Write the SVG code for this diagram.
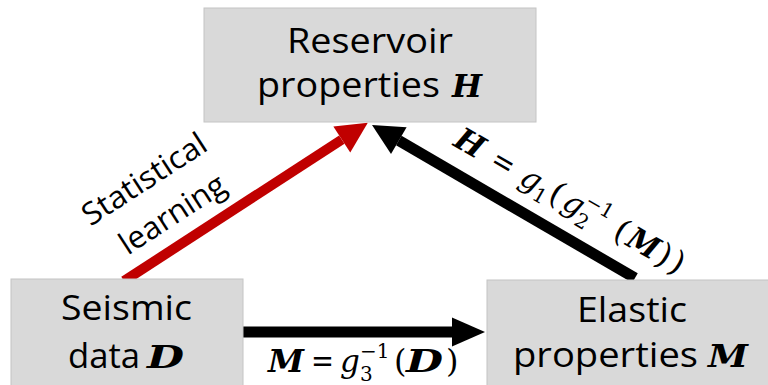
<svg xmlns="http://www.w3.org/2000/svg" width="768" height="385" viewBox="0 0 768 385">
<style>
.box{fill:#d9d9d9;stroke:#c4c4c4;stroke-width:1}
.lbl{font-family:"Open Sans","Noto Sans",sans-serif;font-size:34px;fill:#000}
.rl{font-family:"Open Sans","Noto Sans",sans-serif;font-size:31px;fill:#000}
.mb{font-family:"DejaVu Serif","Liberation Serif",serif;font-style:italic;font-weight:bold;font-size:31px;fill:#000}
.mi{font-family:"DejaVu Serif","Liberation Serif",serif;font-style:italic;font-size:31px;fill:#000}
.mn{font-family:"DejaVu Serif","Liberation Serif",serif;font-size:32px;fill:#000}
.ms{font-family:"DejaVu Serif","Liberation Serif",serif;font-size:20px;fill:#000}
</style>
<defs>
<marker id="hr" markerUnits="userSpaceOnUse" markerWidth="32" markerHeight="32" refX="0" refY="15.5" orient="auto" overflow="visible"><path d="M0,0 L31,15.5 L0,31 z" fill="#c00000"/></marker>
<marker id="hb" markerUnits="userSpaceOnUse" markerWidth="32" markerHeight="32" refX="0" refY="15.5" orient="auto" overflow="visible"><path d="M0,0 L31,15.5 L0,31 z" fill="#000"/></marker>
<marker id="hh" markerUnits="userSpaceOnUse" markerWidth="34" markerHeight="30" refX="0" refY="14.5" orient="auto" overflow="visible"><path d="M0,0 L33,14.5 L0,29 z" fill="#000"/></marker>
</defs>
<g id="connectors">
<line x1="124" y1="281" x2="341.8" y2="139.6" stroke="#c00000" stroke-width="10" marker-end="url(#hr)"/>
<line x1="635" y1="278" x2="398.8" y2="140.6" stroke="#000" stroke-width="11" marker-end="url(#hb)"/>
<line x1="240" y1="332" x2="452" y2="332" stroke="#000" stroke-width="11" marker-end="url(#hh)"/>
<g id="label-stat">
<text class="rl" x="150" y="188" text-anchor="middle" textLength="142" lengthAdjust="spacingAndGlyphs" transform="rotate(-33 150 188)">Statistical</text>
<text class="rl" x="178" y="223" text-anchor="middle" textLength="120" lengthAdjust="spacingAndGlyphs" transform="rotate(-33 178 223)">learning</text>
</g>
<g id="label-hm" transform="translate(452 145) rotate(30)">
<text class="mb" x="0" y="0" textLength="29" lengthAdjust="spacingAndGlyphs">H</text>
<text class="mn" x="42" y="0" textLength="23" lengthAdjust="spacingAndGlyphs">=</text>
<text class="mi" x="76" y="0">g</text>
<text class="ms" x="95" y="7">1</text>
<text class="mn" x="109" y="0">(</text>
<text class="mi" x="125" y="0">g</text>
<text class="ms" x="144" y="8">2</text>
<text class="ms" x="144" y="-14">−1</text>
<text class="mn" x="184" y="0">(</text>
<text class="mb" x="199" y="0" textLength="32" lengthAdjust="spacingAndGlyphs">M</text>
<text class="mn" x="233" y="0">)</text>
<text class="mn" x="248" y="0">)</text>
</g>
<g id="label-md">
<text class="mb" x="268" y="372" textLength="36" lengthAdjust="spacingAndGlyphs">M</text>
<text class="mn" x="311" y="372" textLength="23" lengthAdjust="spacingAndGlyphs">=</text>
<text class="mi" x="340" y="372">g</text>
<text class="ms" x="360" y="381">3</text>
<text class="ms" x="360" y="358">−1</text>
<text class="mn" x="394" y="372">(</text>
<text class="mb" x="406" y="372" textLength="37" lengthAdjust="spacingAndGlyphs">D</text>
<text class="mn" x="446" y="372">)</text>
</g>
</g>
<g id="node-reservoir">
<rect class="box" x="204" y="8" width="332" height="114"/>
<text class="lbl" x="287" y="53" textLength="166" lengthAdjust="spacingAndGlyphs">Reservoir</text>
<text class="lbl" x="257" y="97" textLength="183" lengthAdjust="spacingAndGlyphs">properties</text>
<text class="mb" x="452" y="97" textLength="30" lengthAdjust="spacingAndGlyphs">H</text>
</g>
<g id="node-seismic">
<rect class="box" x="11" y="279" width="232" height="112"/>
<text class="lbl" x="61" y="320" textLength="131" lengthAdjust="spacingAndGlyphs">Seismic</text>
<text class="lbl" x="68" y="368" textLength="72" lengthAdjust="spacingAndGlyphs">data</text>
<text class="mb" x="147" y="368" textLength="37" lengthAdjust="spacingAndGlyphs">D</text>
</g>
<g id="node-elastic">
<rect class="box" x="487" y="280" width="290" height="112"/>
<text class="lbl" x="577" y="322" textLength="110" lengthAdjust="spacingAndGlyphs">Elastic</text>
<text class="lbl" x="513" y="367" textLength="185" lengthAdjust="spacingAndGlyphs">properties</text>
<text class="mb" x="708" y="367" textLength="40" lengthAdjust="spacingAndGlyphs">M</text>
</g>
</svg>
